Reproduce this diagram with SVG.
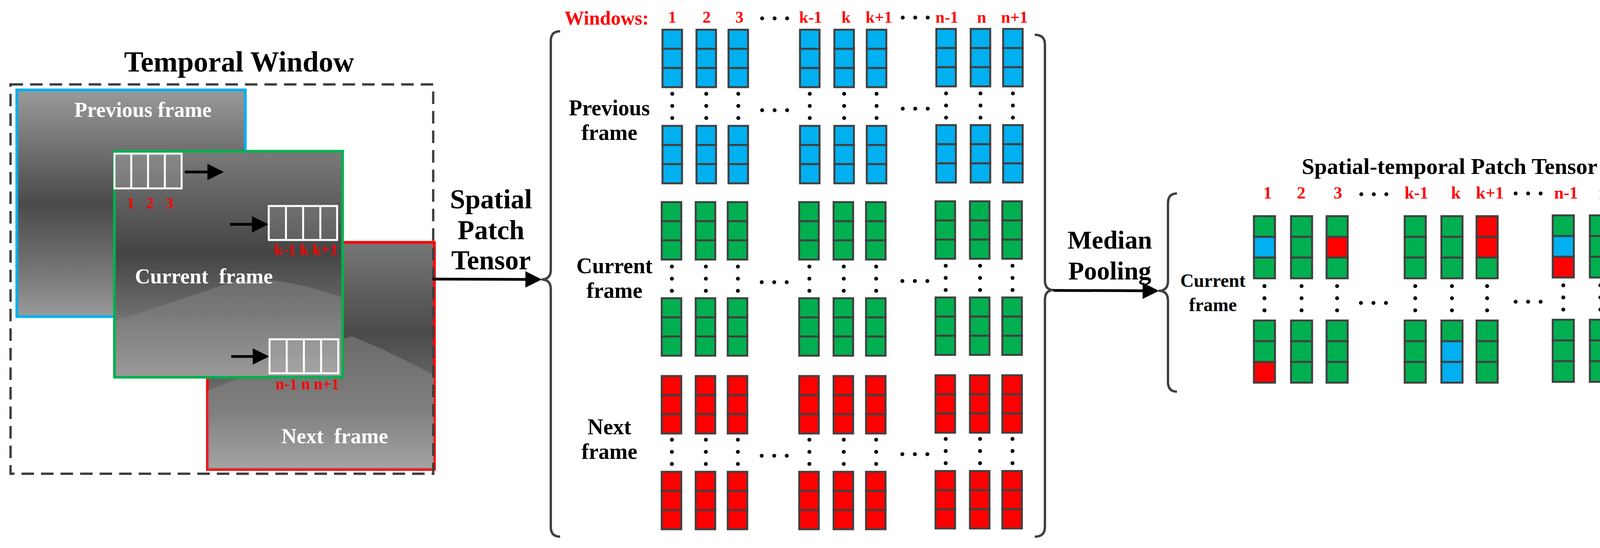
<svg xmlns="http://www.w3.org/2000/svg" xmlns:xlink="http://www.w3.org/1999/xlink" width="4335" height="1402" viewBox="0 0 4335 1402">
<style>
text{font-family:"Liberation Serif","Times New Roman",serif;font-weight:bold;text-anchor:middle}
.blk{fill:#000}
.red{fill:#ff0000}
.wht{fill:#fff}
.cell{stroke:#404040;stroke-width:5}
.B{fill:#00b0f0}.G{fill:#00b050}.R{fill:#ff0000}
.brace{fill:none;stroke:#404040;stroke-width:6}
.conn{stroke:#000;stroke-width:7;fill:none}
.dot{fill:#000}
.patch{fill:rgba(255,255,255,0.12);stroke:#fff;stroke-width:5}
</style>
<defs>
<marker id="ah" markerWidth="6" markerHeight="6" refX="5" refY="3" orient="auto" markerUnits="strokeWidth"><path d="M0,0 L6,3 L0,6 Z" fill="#000"/></marker>
<linearGradient id="gPrev" x1="0" y1="0" x2="0" y2="1"><stop offset="0" stop-color="#9a9a9a"/><stop offset="0.5" stop-color="#4a4a4a"/><stop offset="0.75" stop-color="#6e6e6e"/><stop offset="1" stop-color="#9a9a9a"/></linearGradient>
<linearGradient id="gCur" x1="0" y1="0" x2="0" y2="1"><stop offset="0" stop-color="#7a7a7a"/><stop offset="0.45" stop-color="#444"/><stop offset="0.7" stop-color="#6a6a6a"/><stop offset="1" stop-color="#a8a8a8"/></linearGradient>
<linearGradient id="gNext" x1="0" y1="0" x2="0" y2="1"><stop offset="0" stop-color="#777"/><stop offset="0.4" stop-color="#4a4a4a"/><stop offset="0.75" stop-color="#777"/><stop offset="1" stop-color="#c0c0c0"/></linearGradient>
<g id="cB"><rect class="cell B" x="0" y="0" width="50" height="49"/><rect class="cell B" x="0" y="49" width="50" height="49"/><rect class="cell B" x="0" y="98" width="50" height="49"/></g>
<g id="cG"><rect class="cell G" x="0" y="0" width="50" height="49"/><rect class="cell G" x="0" y="49" width="50" height="49"/><rect class="cell G" x="0" y="98" width="50" height="49"/></g>
<g id="cR"><rect class="cell R" x="0" y="0" width="50" height="49"/><rect class="cell R" x="0" y="49" width="50" height="49"/><rect class="cell R" x="0" y="98" width="50" height="49"/></g>
<g id="vd"><circle class="dot" cx="0" cy="0" r="5"/><circle class="dot" cx="0" cy="31" r="5"/><circle class="dot" cx="0" cy="62" r="5"/></g>
<g id="hd"><circle class="dot" cx="0" cy="0" r="5"/><circle class="dot" cx="32" cy="0" r="5"/><circle class="dot" cx="64" cy="0" r="5"/></g>
</defs>

<g id="temporal-window">
<text class="blk" x="612" y="183" font-size="74">Temporal Window</text>
<g id="prev-frame">
<rect x="43" y="230" width="585" height="580" fill="url(#gPrev)" stroke="#00b0f0" stroke-width="7"/>
<text class="wht" x="366" y="299" font-size="54">Previous frame</text>
</g>
<g id="next-frame">
<rect x="531" y="620" width="581" height="581" fill="url(#gNext)" stroke="#ff0000" stroke-width="7"/>
<path d="M531,1000 Q700,930 900,860 Q1000,900 1112,960 L1112,1201 L531,1201 Z" fill="#8a8a8a" opacity="0.5"/>
<text class="wht" x="857" y="1134" font-size="54" xml:space="preserve">Next  frame</text>
</g>
<g id="cur-frame">
<rect x="293" y="387" width="584" height="578" fill="url(#gCur)" stroke="#00b050" stroke-width="7"/>
<path d="M296,820 Q450,770 600,720 Q700,700 874,760 L874,962 L296,962 Z" fill="#8a8a8a" opacity="0.45"/>
<text class="wht" x="522" y="725" font-size="54" xml:space="preserve">Current  frame</text>
<g id="patch1"><rect class="patch" x="293" y="393" width="172" height="89"/><line x1="336" y1="393" x2="336" y2="482" stroke="#fff" stroke-width="5"/><line x1="379" y1="393" x2="379" y2="482" stroke="#fff" stroke-width="5"/><line x1="422" y1="393" x2="422" y2="482" stroke="#fff" stroke-width="5"/></g>
<g id="patch2"><rect class="patch" x="688" y="527" width="175" height="87"/><line x1="732" y1="527" x2="732" y2="614" stroke="#fff" stroke-width="5"/><line x1="776" y1="527" x2="776" y2="614" stroke="#fff" stroke-width="5"/><line x1="820" y1="527" x2="820" y2="614" stroke="#fff" stroke-width="5"/></g>
<g id="patch3"><rect class="patch" x="690" y="868" width="176" height="87"/><line x1="734" y1="868" x2="734" y2="955" stroke="#fff" stroke-width="5"/><line x1="778" y1="868" x2="778" y2="955" stroke="#fff" stroke-width="5"/><line x1="822" y1="868" x2="822" y2="955" stroke="#fff" stroke-width="5"/></g>
<text class="red" x="335" y="533" font-size="40">1</text><text class="red" x="384" y="533" font-size="40">2</text><text class="red" x="434" y="533" font-size="40">3</text>
<text class="red" x="783" y="652" font-size="40">k-1 k k+1</text>
<text class="red" x="787" y="996" font-size="40">n-1 n n+1</text>
<line class="conn" x1="473" y1="440" x2="566" y2="440" stroke-width="5" marker-end="url(#ah)"/>
<line class="conn" x1="589" y1="574" x2="680" y2="574" stroke-width="5" marker-end="url(#ah)"/>
<line class="conn" x1="592" y1="912" x2="682" y2="912" stroke-width="5" marker-end="url(#ah)"/>
</g>
<rect x="27" y="216" width="1082" height="996" fill="none" stroke="#404040" stroke-width="6" stroke-dasharray="32 18"/>
</g>

<g id="label-spatial">
<text class="blk" font-size="70"><tspan x="1257" y="533">Spatial</tspan><tspan x="1257" y="612">Patch</tspan><tspan x="1257" y="689">Tensor</tspan></text>
</g>
<g id="label-median">
<text class="blk" font-size="66"><tspan x="2841" y="636">Median</tspan><tspan x="2841" y="715">Pooling</tspan></text>
</g>

<g id="connectors">
<line class="conn" x1="1107" y1="714" x2="1380" y2="715" stroke-width="6" marker-end="url(#ah)"/>
<line class="conn" x1="2697" y1="743" x2="2960" y2="744" stroke-width="9" marker-end="url(#ah)"/>
</g>

<g id="spatial-patch-tensor">
<text class="red" x="1553" y="63" font-size="50">Windows:</text>
<g font-size="42">
<text class="red" x="1721" y="58">1</text><text class="red" x="1809" y="58">2</text><text class="red" x="1893" y="58">3</text>
<text class="red" x="2075" y="58">k-1</text><text class="red" x="2166" y="58">k</text><text class="red" x="2250" y="58">k+1</text>
<text class="red" x="2424" y="58">n-1</text><text class="red" x="2513" y="58">n</text><text class="red" x="2597" y="58">n+1</text>
</g>
<use href="#hd" x="1951" y="47"/><use href="#hd" x="2311" y="45"/>
<path class="brace" d="M1434,80 Q1410,80 1410,105 L1410,690 Q1410,715 1386,715 Q1410,715 1410,740 L1410,1348 Q1410,1373 1434,1373"/>
<path class="brace" d="M2649,89 Q2675,89 2675,114 L2675,717 Q2675,742 2697,742 Q2675,742 2675,767 L2675,1348 Q2675,1373 2649,1373"/>
<text class="blk" font-size="56"><tspan x="1560" y="295">Previous</tspan><tspan x="1560" y="358">frame</tspan></text>
<text class="blk" font-size="56"><tspan x="1573" y="699">Current</tspan><tspan x="1573" y="762">frame</tspan></text>
<text class="blk" font-size="56"><tspan x="1560" y="1111">Next</tspan><tspan x="1560" y="1174">frame</tspan></text>
<g id="prev-cols">
<use href="#cB" x="1696" y="76"/><use href="#cB" x="1783" y="76"/><use href="#cB" x="1865" y="76"/><use href="#cB" x="2048" y="76"/><use href="#cB" x="2136" y="76"/><use href="#cB" x="2219" y="76"/><use href="#cB" x="2397" y="74"/><use href="#cB" x="2485" y="74"/><use href="#cB" x="2568" y="74"/>
<use href="#cB" x="1696" y="322"/><use href="#cB" x="1783" y="322"/><use href="#cB" x="1865" y="322"/><use href="#cB" x="2048" y="322"/><use href="#cB" x="2136" y="322"/><use href="#cB" x="2219" y="322"/><use href="#cB" x="2397" y="320"/><use href="#cB" x="2485" y="320"/><use href="#cB" x="2568" y="320"/>
<use href="#vd" x="1721" y="240"/><use href="#vd" x="1808" y="240"/><use href="#vd" x="1890" y="240"/><use href="#vd" x="2073" y="240"/><use href="#vd" x="2161" y="240"/><use href="#vd" x="2244" y="240"/><use href="#vd" x="2422" y="239"/><use href="#vd" x="2510" y="239"/><use href="#vd" x="2593" y="239"/>
<use href="#hd" x="1951" y="282"/><use href="#hd" x="2311" y="278"/>
</g>
<g id="cur-cols">
<use href="#cG" x="1694" y="517"/><use href="#cG" x="1781" y="517"/><use href="#cG" x="1863" y="517"/><use href="#cG" x="2046" y="517"/><use href="#cG" x="2134" y="517"/><use href="#cG" x="2217" y="517"/><use href="#cG" x="2395" y="515"/><use href="#cG" x="2483" y="515"/><use href="#cG" x="2566" y="515"/>
<use href="#cG" x="1694" y="763"/><use href="#cG" x="1781" y="763"/><use href="#cG" x="1863" y="763"/><use href="#cG" x="2046" y="763"/><use href="#cG" x="2134" y="763"/><use href="#cG" x="2217" y="763"/><use href="#cG" x="2395" y="761"/><use href="#cG" x="2483" y="761"/><use href="#cG" x="2566" y="761"/>
<use href="#vd" x="1720" y="682"/><use href="#vd" x="1807" y="682"/><use href="#vd" x="1889" y="682"/><use href="#vd" x="2072" y="682"/><use href="#vd" x="2160" y="682"/><use href="#vd" x="2243" y="682"/><use href="#vd" x="2421" y="680"/><use href="#vd" x="2509" y="680"/><use href="#vd" x="2592" y="680"/>
<use href="#hd" x="1950" y="722"/><use href="#hd" x="2310" y="719"/>
</g>
<g id="next-cols">
<use href="#cR" x="1694" y="962"/><use href="#cR" x="1781" y="962"/><use href="#cR" x="1863" y="962"/><use href="#cR" x="2046" y="962"/><use href="#cR" x="2134" y="962"/><use href="#cR" x="2217" y="962"/><use href="#cR" x="2395" y="960"/><use href="#cR" x="2483" y="960"/><use href="#cR" x="2566" y="960"/>
<use href="#cR" x="1694" y="1207"/><use href="#cR" x="1781" y="1207"/><use href="#cR" x="1863" y="1207"/><use href="#cR" x="2046" y="1207"/><use href="#cR" x="2134" y="1207"/><use href="#cR" x="2217" y="1207"/><use href="#cR" x="2395" y="1205"/><use href="#cR" x="2483" y="1205"/><use href="#cR" x="2566" y="1205"/>
<use href="#vd" x="1720" y="1125"/><use href="#vd" x="1807" y="1125"/><use href="#vd" x="1889" y="1125"/><use href="#vd" x="2072" y="1125"/><use href="#vd" x="2160" y="1125"/><use href="#vd" x="2243" y="1125"/><use href="#vd" x="2421" y="1123"/><use href="#vd" x="2509" y="1123"/><use href="#vd" x="2592" y="1123"/>
<use href="#hd" x="1950" y="1166"/><use href="#hd" x="2310" y="1162"/>
</g>
</g>

<g id="spatial-temporal-patch-tensor">
<text class="blk" x="3711" y="445" font-size="58">Spatial-temporal Patch Tensor</text>
<g font-size="44">
<text class="red" x="3245" y="508">1</text><text class="red" x="3331" y="508">2</text><text class="red" x="3425" y="508">3</text>
<text class="red" x="3626" y="508">k-1</text><text class="red" x="3727" y="508">k</text><text class="red" x="3814" y="508">k+1</text>
<text class="red" x="4009" y="508">n-1</text><text class="red" x="4106" y="508">n</text><text class="red" x="4196" y="508">n+1</text>
</g>
<use href="#hd" x="3485" y="497"/><use href="#hd" x="3880" y="495"/>
<path class="brace" d="M3013,495 Q2990,495 2990,520 L2990,719 Q2990,744 2966,744 Q2990,744 2990,769 L2990,977 Q2990,1002 3013,1002"/>
<path class="brace" d="M4248,533 Q4269,533 4269,558 L4269,745 Q4269,770 4295,770 Q4269,770 4269,795 L4269,977 Q4269,1002 4248,1002"/>
<text class="blk" font-size="48"><tspan x="3105" y="734">Current</tspan><tspan x="3105" y="796">frame</tspan></text>
<g id="st-top">
<rect class="cell G" x="3210" y="553" width="54" height="53"/><rect class="cell B" x="3210" y="606" width="54" height="53"/><rect class="cell G" x="3210" y="659" width="54" height="53"/>
<rect class="cell G" x="3305" y="553" width="54" height="53"/><rect class="cell G" x="3305" y="606" width="54" height="53"/><rect class="cell G" x="3305" y="659" width="54" height="53"/>
<rect class="cell G" x="3396" y="553" width="54" height="53"/><rect class="cell R" x="3396" y="606" width="54" height="53"/><rect class="cell G" x="3396" y="659" width="54" height="53"/>
<rect class="cell G" x="3596" y="553" width="54" height="53"/><rect class="cell G" x="3596" y="606" width="54" height="53"/><rect class="cell G" x="3596" y="659" width="54" height="53"/>
<rect class="cell G" x="3690" y="553" width="54" height="53"/><rect class="cell G" x="3690" y="606" width="54" height="53"/><rect class="cell G" x="3690" y="659" width="54" height="53"/>
<rect class="cell R" x="3780" y="553" width="54" height="53"/><rect class="cell R" x="3780" y="606" width="54" height="53"/><rect class="cell G" x="3780" y="659" width="54" height="53"/>
<rect class="cell G" x="3975" y="551" width="54" height="53"/><rect class="cell B" x="3975" y="604" width="54" height="53"/><rect class="cell R" x="3975" y="657" width="54" height="53"/>
<rect class="cell G" x="4070" y="551" width="54" height="53"/><rect class="cell G" x="4070" y="604" width="54" height="53"/><rect class="cell G" x="4070" y="657" width="54" height="53"/>
<rect class="cell B" x="4161" y="551" width="54" height="53"/><rect class="cell G" x="4161" y="604" width="54" height="53"/><rect class="cell G" x="4161" y="657" width="54" height="53"/>
</g>
<g id="st-bottom">
<rect class="cell G" x="3210" y="820" width="54" height="53"/><rect class="cell G" x="3210" y="873" width="54" height="53"/><rect class="cell R" x="3210" y="926" width="54" height="53"/>
<rect class="cell G" x="3305" y="820" width="54" height="53"/><rect class="cell G" x="3305" y="873" width="54" height="53"/><rect class="cell G" x="3305" y="926" width="54" height="53"/>
<rect class="cell G" x="3396" y="820" width="54" height="53"/><rect class="cell G" x="3396" y="873" width="54" height="53"/><rect class="cell G" x="3396" y="926" width="54" height="53"/>
<rect class="cell G" x="3596" y="820" width="54" height="53"/><rect class="cell G" x="3596" y="873" width="54" height="53"/><rect class="cell G" x="3596" y="926" width="54" height="53"/>
<rect class="cell G" x="3690" y="820" width="54" height="53"/><rect class="cell B" x="3690" y="873" width="54" height="53"/><rect class="cell B" x="3690" y="926" width="54" height="53"/>
<rect class="cell G" x="3780" y="820" width="54" height="53"/><rect class="cell G" x="3780" y="873" width="54" height="53"/><rect class="cell G" x="3780" y="926" width="54" height="53"/>
<rect class="cell G" x="3975" y="818" width="54" height="53"/><rect class="cell G" x="3975" y="871" width="54" height="53"/><rect class="cell G" x="3975" y="924" width="54" height="53"/>
<rect class="cell G" x="4070" y="818" width="54" height="53"/><rect class="cell G" x="4070" y="871" width="54" height="53"/><rect class="cell G" x="4070" y="924" width="54" height="53"/>
<rect class="cell G" x="4161" y="818" width="54" height="53"/><rect class="cell G" x="4161" y="871" width="54" height="53"/><rect class="cell G" x="4161" y="924" width="54" height="53"/>
</g>
<use href="#vd" x="3237" y="732" transform="translate(0,0)"/>
<g>
<use href="#vd" x="3237" y="732"/><use href="#vd" x="3332" y="732"/><use href="#vd" x="3423" y="732"/><use href="#vd" x="3623" y="732"/><use href="#vd" x="3717" y="732"/><use href="#vd" x="3807" y="732"/><use href="#vd" x="4002" y="730"/><use href="#vd" x="4097" y="730"/><use href="#vd" x="4188" y="730"/>
</g>
<use href="#hd" x="3484" y="775"/><use href="#hd" x="3880" y="772"/>
</g>
</svg>
